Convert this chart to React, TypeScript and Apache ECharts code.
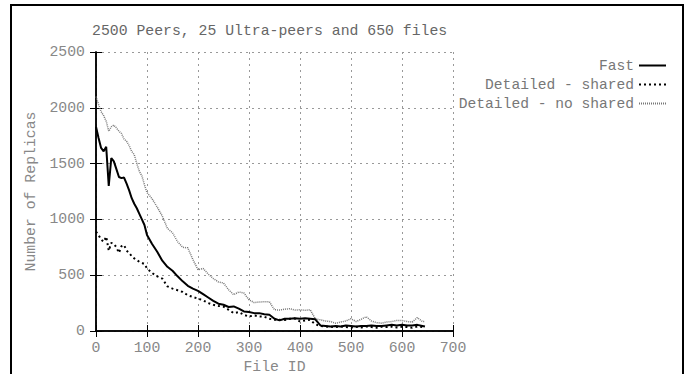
import React, { useEffect, useRef } from "react";
import * as echarts from "echarts";

const fileIds = [
  0, 5, 10, 15, 20, 25, 30, 35, 40, 45, 50, 55, 60, 65, 70, 75, 80, 85, 90, 95,
  100, 110, 120, 130, 140, 150, 160, 170, 180, 190, 200, 210, 220, 230, 240, 250,
  260, 270, 280, 290, 300, 310, 320, 330, 340, 350, 360, 370, 380, 390, 400, 410,
  420, 430, 440, 450, 460, 470, 480, 490, 500, 510, 520, 530, 540, 550, 560, 570,
  580, 590, 600, 610, 620, 630, 640, 645,
];

const fastValues = [
  1830, 1730, 1640, 1610, 1650, 1300, 1550, 1520, 1450, 1380, 1370, 1375, 1320, 1260, 1190, 1140, 1100, 1050, 1000, 950,
  860, 780, 710, 630, 575, 540, 490, 445, 405, 380, 360, 330, 300, 270, 245, 235,
  215, 220, 200, 175, 170, 160, 160, 150, 145, 110, 95, 110, 110, 115, 110, 115,
  110, 105, 50, 45, 40, 45, 40, 50, 45, 40, 45, 45, 50, 45, 45, 50,
  55, 50, 55, 50, 50, 55, 45, 40,
];

const sharedValues = [
  890, 860, 820, 800, 845, 720, 790, 780, 750, 700, 760, 770, 720, 700, 670, 650, 635, 620, 610, 600,
  560, 520, 490, 470, 400, 380, 365, 350, 320, 305, 290, 275, 250, 235, 225, 218,
  190, 160, 170, 145, 130, 140, 130, 128, 110, 100, 100, 98, 110, 112, 85, 95,
  100, 60, 45, 40, 38, 35, 40, 35, 30, 38, 32, 40, 35, 30, 38, 35,
  40, 32, 38, 35, 30, 40, 35, 35,
];

const noSharedValues = [
  2100, 2030, 1965, 1930, 1880, 1790, 1830, 1845, 1820, 1790, 1770, 1720, 1700, 1660, 1610, 1580, 1500, 1430, 1390, 1310,
  1240, 1185, 1110, 1030, 920, 880, 800, 750, 745, 640, 550, 560, 510, 470, 440, 430,
  370, 325, 350, 340, 280, 255, 260, 262, 262, 190, 188, 195, 200, 188, 190, 185,
  190, 110, 100, 90, 84, 70, 80, 90, 110, 85, 105, 128, 90, 75, 70, 80,
  85, 95, 95, 85, 80, 120, 85, 85,
];

const xTicks = { min: 0, max: 700, interval: 100 };
const yTicks = { min: 0, max: 2500, interval: 500 };

const titleText = "2500 Peers, 25 Ultra-peers and 650 files";
const seriesNames = ["Fast", "Detailed - shared", "Detailed - no shared"];

const FONT = "'Liberation Mono', 'DejaVu Sans Mono', monospace";

function pairs(vals: number[]) {
  return fileIds.map((id, i) => [id, vals[i]]);
}

export default function App() {
  const ref = useRef<HTMLDivElement>(null);
  useEffect(() => {
    if (!ref.current) return;
    const chart = echarts.init(ref.current, undefined, { renderer: "svg" });
    const labelStyle = { color: "#888", fontFamily: FONT, fontSize: 14.8 };
    const splitLine = { show: true, lineStyle: { color: "#999", type: [2, 4] as any, width: 1 } };
    const plain = (v: number) => String(v);
    chart.setOption({
      animation: false,
      backgroundColor: "#fff",
      title: {
        text: titleText,
        left: 92,
        top: 23,
        padding: 0,
        textStyle: { color: "#666", fontFamily: FONT, fontSize: 14.8, fontWeight: "normal" },
      },
      legend: {
        orient: "vertical",
        right: 23,
        top: 58,
        padding: 0,
        align: "right",
        itemWidth: 27,
        itemHeight: 14,
        itemGap: 4,
        itemStyle: { opacity: 0 },
        textStyle: { color: "#777", fontFamily: FONT, fontSize: 14.6 },
        data: seriesNames,
      },
      graphic: [
        {
          type: "rect",
          shape: { x: 11, y: 5, width: 672, height: 420 },
          style: { fill: "none", stroke: "#000", lineWidth: 2 },
          silent: true,
        },
      ],
      grid: { left: 96, right: 237, top: 52, bottom: 43, outerBoundsMode: "none", containLabel: false },
      xAxis: [
        {
          type: "value",
          min: xTicks.min,
          max: xTicks.max,
          interval: xTicks.interval,
          name: "File ID",
          nameLocation: "middle",
          nameGap: 27,
          nameTextStyle: labelStyle,
          axisLine: { show: true, lineStyle: { color: "#000", width: 1.5 } },
          axisTick: { show: true, inside: true, length: 6, lineStyle: { color: "#000", width: 1 } },
          axisLabel: { ...labelStyle, margin: 9, formatter: plain },
          splitLine,
        },
        {
          type: "value",
          position: "top",
          min: xTicks.min,
          max: xTicks.max,
          interval: xTicks.interval,
          axisLine: { show: true, lineStyle: { color: "#000", width: 1.5 } },
          axisTick: { show: true, inside: true, length: 6, lineStyle: { color: "#000", width: 1 } },
          axisLabel: { show: false },
          splitLine: { show: false },
        },
      ],
      yAxis: [
        {
          type: "value",
          min: yTicks.min,
          max: yTicks.max,
          interval: yTicks.interval,
          name: "Number of Replicas",
          nameLocation: "middle",
          nameGap: 58,
          nameTextStyle: labelStyle,
          axisLine: { show: true, lineStyle: { color: "#000", width: 1.5 } },
          axisTick: { show: true, inside: true, length: 6, lineStyle: { color: "#000", width: 1 } },
          axisLabel: { ...labelStyle, margin: 11, formatter: plain },
          splitLine,
        },
        {
          type: "value",
          position: "right",
          min: yTicks.min,
          max: yTicks.max,
          interval: yTicks.interval,
          axisLine: { show: true, lineStyle: { color: "#000", width: 1.5 } },
          axisTick: { show: true, inside: true, length: 6, lineStyle: { color: "#000", width: 1 } },
          axisLabel: { show: false },
          splitLine: { show: false },
        },
      ],
      series: [
        {
          name: seriesNames[0],
          type: "line",
          data: pairs(fastValues),
          showSymbol: false,
          symbol: "none",
          color: "#000",
          lineStyle: { color: "#000", width: 2, type: "solid" },
          z: 5,
        },
        {
          name: seriesNames[1],
          type: "line",
          data: pairs(sharedValues),
          showSymbol: false,
          symbol: "none",
          color: "#000",
          lineStyle: { color: "#000", width: 2, type: [2, 3] },
          z: 4,
        },
        {
          name: seriesNames[2],
          type: "line",
          data: pairs(noSharedValues),
          showSymbol: false,
          symbol: "none",
          color: "#777",
          lineStyle: { color: "#777", width: 1.5, type: [1, 1] },
          z: 3,
        },
      ],
    });
    return () => chart.dispose();
  }, []);
  return (
    <div
      ref={ref}
      style={{ position: "fixed", left: 0, top: 0, width: 690, height: 374, background: "#fff" }}
    />
  );
}
